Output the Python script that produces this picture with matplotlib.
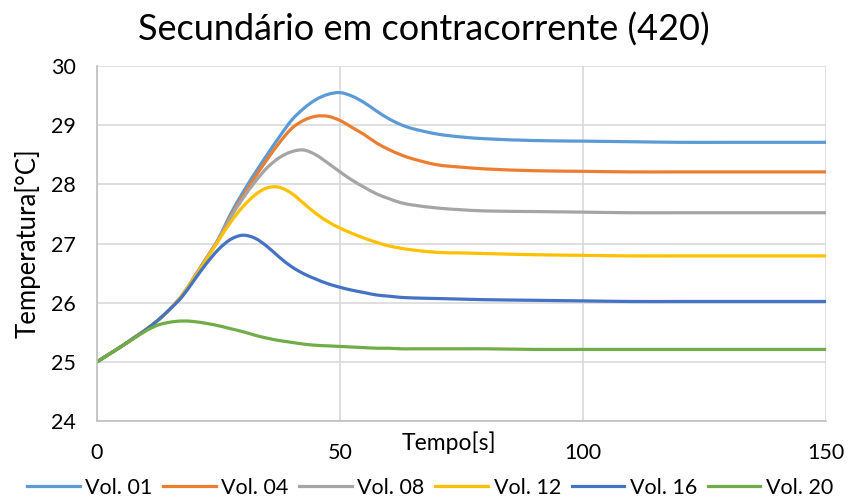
import matplotlib
matplotlib.use("Agg")
import matplotlib.pyplot as plt
from matplotlib.path import Path
from matplotlib.patches import PathPatch
from matplotlib.lines import Line2D

plt.rcParams['font.family'] = ['Lato', 'DejaVu Sans']

t = [0, 2.5, 5, 7.5, 10, 12.5, 15, 17.5, 20, 22.5, 25, 27.5, 30, 32.5, 35, 37.5,
     40, 42.5, 45, 47.5, 50, 52.5, 55, 57.5, 60, 62.5, 65, 70, 75, 80, 90, 100,
     110, 120, 130, 140, 150]

vol01 = [25.0, 25.13, 25.26, 25.40, 25.54, 25.70, 25.89, 26.12, 26.43, 26.75, 27.08, 27.50,
         27.86, 28.19, 28.50, 28.80, 29.08, 29.28, 29.43, 29.52, 29.55, 29.49, 29.38, 29.24,
         29.11, 29.01, 28.94, 28.85, 28.80, 28.77, 28.74, 28.73, 28.72, 28.71, 28.71, 28.71, 28.71]
vol04 = [25.0, 25.13, 25.26, 25.40, 25.54, 25.70, 25.89, 26.12, 26.43, 26.75, 27.07, 27.46,
         27.80, 28.12, 28.42, 28.70, 28.94, 29.08, 29.15, 29.15, 29.08, 28.96, 28.84, 28.70,
         28.59, 28.50, 28.43, 28.33, 28.29, 28.26, 28.23, 28.22, 28.21, 28.21, 28.21, 28.21, 28.21]
vol08 = [25.0, 25.13, 25.26, 25.40, 25.54, 25.70, 25.89, 26.12, 26.43, 26.75, 27.07, 27.44,
         27.76, 28.04, 28.28, 28.45, 28.55, 28.58, 28.50, 28.36, 28.21, 28.07, 27.95, 27.84,
         27.76, 27.69, 27.65, 27.60, 27.57, 27.55, 27.54, 27.53, 27.52, 27.52, 27.52, 27.52, 27.52]
vol12 = [25.0, 25.13, 25.26, 25.40, 25.54, 25.70, 25.89, 26.12, 26.42, 26.73, 27.05, 27.36,
         27.62, 27.82, 27.94, 27.95, 27.85, 27.68, 27.51, 27.37, 27.26, 27.17, 27.09, 27.02,
         26.96, 26.92, 26.89, 26.85, 26.84, 26.83, 26.81, 26.80, 26.79, 26.79, 26.79, 26.79, 26.79]
vol16 = [25.0, 25.13, 25.26, 25.40, 25.54, 25.70, 25.89, 26.10, 26.38, 26.66, 26.90, 27.07,
         27.14, 27.09, 26.95, 26.77, 26.61, 26.49, 26.40, 26.32, 26.26, 26.21, 26.17, 26.13,
         26.11, 26.09, 26.08, 26.07, 26.06, 26.05, 26.04, 26.03, 26.02, 26.02, 26.02, 26.02, 26.02]
vol20 = [25.0, 25.13, 25.26, 25.39, 25.52, 25.62, 25.67, 25.69, 25.68, 25.65, 25.61, 25.56,
         25.51, 25.45, 25.40, 25.36, 25.33, 25.30, 25.28, 25.27, 25.26, 25.25, 25.24, 25.23,
         25.23, 25.22, 25.22, 25.22, 25.22, 25.22, 25.21, 25.21, 25.21, 25.21, 25.21, 25.21, 25.21]

labels = ["Vol. 01", "Vol. 04", "Vol. 08", "Vol. 12", "Vol. 16", "Vol. 20"]
colors = ["#5B9BD5", "#ED7D31", "#A5A5A5", "#FFC000", "#4472C4", "#70AD47"]
series = [vol01, vol04, vol08, vol12, vol16, vol20]


def smooth_path(x, y):
    """Excel-like smoothed line: cubic Bezier segments through the data points."""
    n = len(x)
    verts = [(x[0], y[0])]
    codes = [Path.MOVETO]
    for i in range(n - 1):
        x0, y0 = (x[i - 1], y[i - 1]) if i > 0 else (x[i], y[i])
        x1, y1 = x[i], y[i]
        x2, y2 = x[i + 1], y[i + 1]
        x3, y3 = (x[i + 2], y[i + 2]) if i + 2 < n else (x2, y2)
        h = x2 - x1
        d1 = (y2 - y0) / (x2 - x0) if x2 != x0 else 0
        d2 = (y3 - y1) / (x3 - x1) if x3 != x1 else 0
        c1 = (x1 + h / 3, y1 + d1 * h / 3)
        c2 = (x2 - h / 3, y2 - d2 * h / 3)
        verts += [c1, c2, (x2, y2)]
        codes += [Path.CURVE4] * 3
    return Path(verts, codes)


fig = plt.figure(figsize=(8.5, 4.99), dpi=100)
ax = fig.add_axes([97/850, 1-421/499, (826-97)/850, (421-66)/499])

handles = []
for y, lab, c in zip(series, labels, colors):
    patch = PathPatch(smooth_path(t, y), facecolor='none', edgecolor=c, lw=2.3,
                      capstyle='round', joinstyle='round')
    ax.add_patch(patch)
    handles.append(Line2D([], [], color=c, lw=2.3, label=lab))

ax.set_xlim(0, 150)
ax.set_ylim(24, 30)
ax.set_xticks([0, 50, 100, 150])
ax.set_yticks([24, 25, 26, 27, 28, 29, 30])
ax.grid(True, color='#D9D9D9', lw=1.2)
ax.set_axisbelow(True)
for s in ['top', 'right']:
    ax.spines[s].set_visible(False)
for s in ['left', 'bottom']:
    ax.spines[s].set_color('#BFBFBF')
    ax.spines[s].set_linewidth(1.2)
ax.tick_params(axis='both', length=0, labelsize=15.5, colors='black')
ax.tick_params(axis='x', pad=16)
ax.tick_params(axis='y', pad=15)

fig.text(424/850, 1-30/499, "Secundário em contracorrente (420)", ha='center', va='center', fontsize=26)
fig.text(449/850, 1-443/499, "Tempo[s]", ha='center', va='center', fontsize=16.5)
fig.text(28/850, 1-243/499, "Temperatura[°C]", ha='center', va='center', rotation=90, fontsize=18.5)

fig.legend(handles=handles, loc='center', bbox_to_anchor=(430/850, 1-488/499), ncol=6,
           frameon=False, fontsize=15.5, handlelength=2.45, columnspacing=0.5,
           handletextpad=0.25, borderpad=0, borderaxespad=0)

fig.savefig("out.png", dpi=100)
